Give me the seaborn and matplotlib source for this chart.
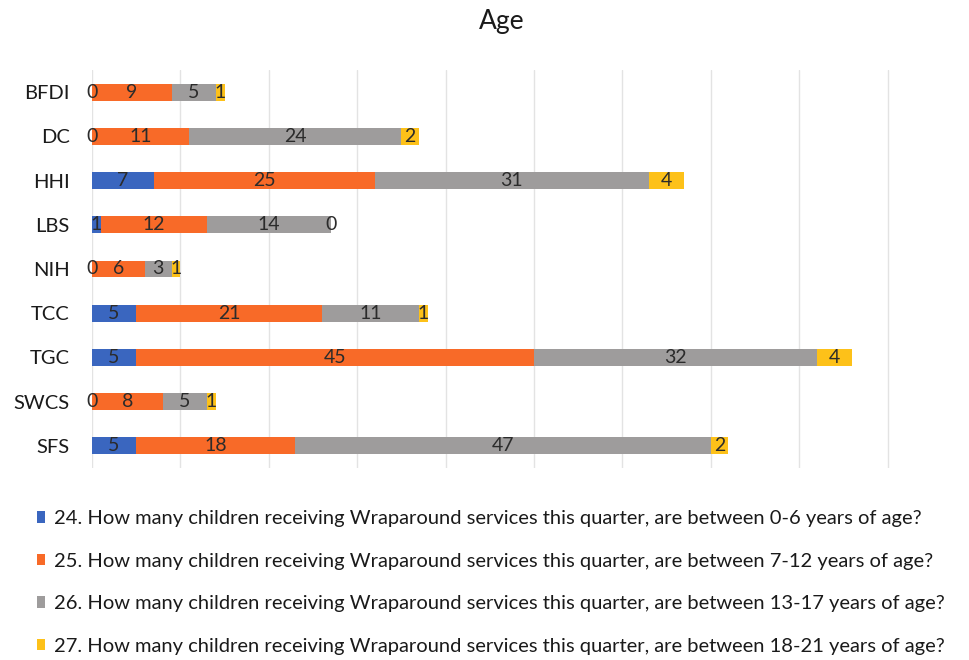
import numpy as np
import pandas as pd
import matplotlib
matplotlib.use("Agg")
import matplotlib.pyplot as plt
from matplotlib.patches import Patch
import seaborn as sns

# Wraparound provider agencies
agencies = ["BFDI", "DC", "HHI", "LBS", "NIH", "TCC", "TGC", "SWCS", "SFS"]

# Children served this quarter, by age band
age_0_6 = [0, 0, 7, 1, 0, 5, 5, 0, 5]
age_7_12 = [9, 11, 25, 12, 6, 21, 45, 8, 18]
age_13_17 = [5, 24, 31, 14, 3, 11, 32, 5, 47]
age_18_21 = [1, 2, 4, 0, 1, 1, 4, 1, 2]

series_labels = [
    "24. How many children receiving Wraparound services this quarter, are between 0-6 years of age?",
    "25. How many children receiving Wraparound services this quarter, are between 7-12 years of age?",
    "26. How many children receiving Wraparound services this quarter, are between 13-17 years of age?",
    "27. How many children receiving Wraparound services this quarter, are between 18-21 years of age?",
]
series_colors = ["#3A66BF", "#F86A28", "#9E9C9C", "#FDC119"]

sns.set_theme(style="white")
plt.rcParams["font.family"] = ["Lato", "DejaVu Sans"]

series = [age_0_6, age_7_12, age_13_17, age_18_21]
df = pd.DataFrame({"agency": agencies})
for i, vals in enumerate(series):
    df[f"s{i}"] = vals
cum = np.cumsum(np.array(series, dtype=float), axis=0)
for i in range(len(series)):
    df[f"c{i}"] = cum[i]

fig = plt.figure(figsize=(9.69, 6.6), dpi=100)
ax = fig.add_axes([92 / 969, 1 - 468 / 660, 884 / 969, 398 / 660])

# stacked bars: draw cumulative totals from the outermost segment inwards
for i in reversed(range(len(series))):
    sns.barplot(data=df, x=f"c{i}", y="agency", orient="h", color=series_colors[i],
                width=0.38, ax=ax, saturation=1, edgecolor="none", linewidth=0)

# segment value labels
for i in range(len(series)):
    for j, a in enumerate(agencies):
        start = cum[i][j] - series[i][j]
        center = start + series[i][j] / 2
        ax.text(center, j, f"{series[i][j]}", ha="center", va="center",
                fontsize=14, color="#2b2b2b")

ax.set_xlim(0, 100)
ax.set_ylim(8.5, -0.5)
ax.set_xticks(np.arange(0, 101, 10))
ax.set_xticklabels([])
ax.grid(axis="x", color="#e3e3e3", linewidth=1)
ax.grid(axis="y", visible=False)
ax.set_axisbelow(True)
for s in ax.spines.values():
    s.set_visible(False)
ax.set_xlabel("")
ax.set_ylabel("")
ax.tick_params(axis="y", length=0, pad=16, labelsize=14.5, labelcolor="#1a1a1a")
ax.tick_params(axis="x", length=0)

fig.text(502 / 969, 1 - 22 / 660, "Age", ha="center", va="center",
         fontsize=19, color="#1a1a1a")

handles = [Patch(facecolor=c, edgecolor="none") for c in series_colors]
fig.legend(handles, series_labels, loc="upper left",
           bbox_to_anchor=(29 / 969, 1 - 502 / 660), frameon=False,
           fontsize=14.5, handlelength=0.4, handleheight=0.5, handletextpad=0.45,
           labelspacing=1.27, labelcolor="#1a1a1a", borderaxespad=0)

fig.savefig("out.png", dpi=100)
